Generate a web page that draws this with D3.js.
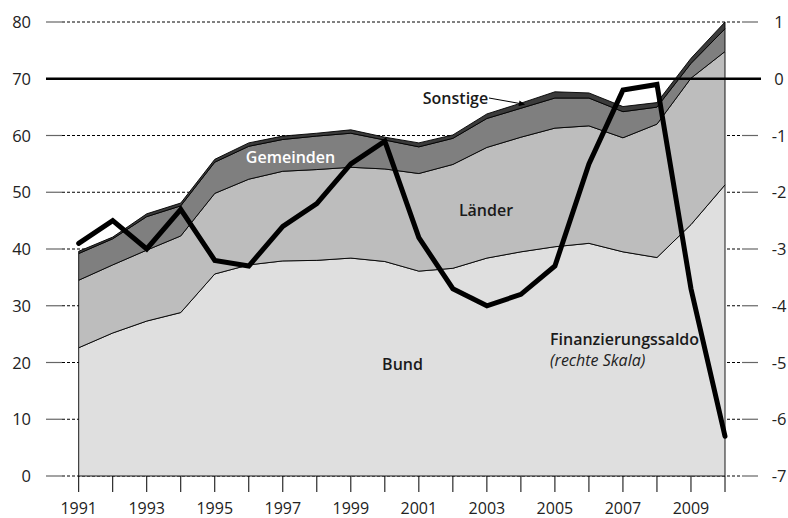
<!DOCTYPE html>
<html>
<head>
<meta charset="utf-8">
<script src="https://cdn.jsdelivr.net/npm/d3@7"></script>
<style>
  body { margin: 0; background: #fff; }
  svg { display: block; font-family: "Open Sans", "Noto Sans", sans-serif; }
</style>
</head>
<body>
<svg id="chart" width="788" height="518"></svg>
<script>
// ---- data ----
const years = [1991,1992,1993,1994,1995,1996,1997,1998,1999,2000,2001,2002,2003,2004,2005,2006,2007,2008,2009,2010];
const bund      = [22.6,25.2,27.3,28.8,35.6,37.2,37.9,38.0,38.4,37.8,36.1,36.6,38.4,39.5,40.4,41.0,39.5,38.5,44.3,51.3];
const laender   = [11.9,12.0,12.5,13.5,14.2,15.1,15.8,16.0,16.0,16.3,17.2,18.3,19.5,20.2,20.9,20.7,20.1,23.5,25.8,23.5];
const gemeinden = [4.7,4.6,5.9,5.3,5.5,5.8,5.6,5.9,6.0,5.1,4.7,4.6,5.1,5.1,5.3,4.9,4.6,3.0,2.6,4.0];
const sonstige  = [0.4,0.3,0.5,0.5,0.5,0.6,0.6,0.5,0.6,0.5,0.7,0.6,0.8,0.9,1.1,0.9,0.9,0.8,0.9,1.2];
const saldo     = [-2.9,-2.5,-3.0,-2.3,-3.2,-3.3,-2.6,-2.2,-1.5,-1.1,-2.8,-3.7,-4.0,-3.8,-3.3,-1.5,-0.2,-0.1,-3.7,-6.3];
const leftTicks  = [0,10,20,30,40,50,60,70,80];
const rightTicks = [-7,-6,-5,-4,-3,-2,-1,0,1];
const xLabelYears = [1991,1993,1995,1997,1999,2001,2003,2005,2007,2009];
const seriesNames = ["Bund","Länder","Gemeinden","Sonstige"];
const seriesColors = ["#dfdfdf","#bdbdbd","#7f7f7f","#3b3b3b"];

// ---- scales ----
const svg = d3.select("#chart");
const x = d3.scaleLinear().domain([1991, 2010]).range([78.7, 725]);
const yL = d3.scaleLinear().domain([0, 80]).range([476, 22]);
const yR = d3.scaleLinear().domain([-7, 1]).range([476, 22]);

const table = years.map((yr, i) => ({
  year: yr, Bund: bund[i], "Länder": laender[i], Gemeinden: gemeinden[i], Sonstige: sonstige[i]
}));
const stacked = d3.stack().keys(seriesNames)(table);

// ---- gridlines (dashed, behind) ----
const grid = svg.append("g");
leftTicks.forEach(t => {
  if (t === 70) return;
  grid.append("line")
    .attr("x1", 62).attr("x2", 742)
    .attr("y1", yL(t)).attr("y2", yL(t))
    .attr("stroke", "#000").attr("stroke-width", 1)
    .attr("stroke-dasharray", "3,2");
  grid.append("line").attr("x1", 46).attr("x2", 62)
    .attr("y1", yL(t)).attr("y2", yL(t))
    .attr("stroke", "#666").attr("stroke-width", 1.2);
  grid.append("line").attr("x1", 742).attr("x2", 758)
    .attr("y1", yL(t)).attr("y2", yL(t))
    .attr("stroke", "#666").attr("stroke-width", 1.2);
});

// ---- stacked areas ----
const area = d3.area()
  .x(d => x(d.data.year))
  .y0(d => yL(d[0]))
  .y1(d => yL(d[1]));
svg.append("g").selectAll("path")
  .data(stacked)
  .join("path")
  .attr("d", area)
  .attr("fill", (d, i) => seriesColors[i])
  .attr("stroke", "#000")
  .attr("stroke-width", 0.9)
  .attr("stroke-linejoin", "miter");

// ---- x axis ticks ----
const xa = svg.append("g");
years.forEach(yr => {
  xa.append("line")
    .attr("x1", x(yr)).attr("x2", x(yr))
    .attr("y1", 476).attr("y2", 492)
    .attr("stroke", "#000").attr("stroke-width", 1);
});
xLabelYears.forEach(yr => {
  xa.append("text")
    .attr("x", x(yr)).attr("y", 513.5)
    .attr("text-anchor", "middle")
    .attr("font-size", 16)
    .attr("fill", "#222")
    .text(yr);
});

// ---- zero line of right scale (70 on left) ----
svg.append("line")
  .attr("x1", 46).attr("x2", 761)
  .attr("y1", yR(0)).attr("y2", yR(0))
  .attr("stroke", "#000").attr("stroke-width", 2.4);

// ---- left and right tick labels ----
leftTicks.forEach(t => {
  svg.append("text")
    .attr("x", 31).attr("y", yL(t) + 6)
    .attr("text-anchor", "end")
    .attr("font-size", 16.5)
    .attr("fill", "#222")
    .text(t);
});
rightTicks.forEach(t => {
  svg.append("text")
    .attr("x", 779).attr("y", yR(t) + 6)
    .attr("text-anchor", "middle")
    .attr("font-size", 16.5)
    .attr("fill", "#222")
    .text(t);
});

// ---- Finanzierungssaldo line ----
const line = d3.line()
  .x((d, i) => x(years[i]))
  .y(d => yR(d));
svg.append("path")
  .datum(saldo)
  .attr("d", line)
  .attr("fill", "none")
  .attr("stroke", "#000")
  .attr("stroke-width", 5)
  .attr("stroke-linejoin", "miter")
  .attr("stroke-linecap", "round");

// ---- labels ----
const lab = svg.append("g").attr("font-size", 16).attr("font-weight", 600);
lab.append("text").attr("x", 290.5).attr("y", 163).attr("text-anchor", "middle")
  .attr("fill", "#fff").text("Gemeinden");
lab.append("text").attr("x", 486).attr("y", 216).attr("text-anchor", "middle")
  .attr("fill", "#1a1a1a").text("Länder");
lab.append("text").attr("x", 402.5).attr("y", 369.5).attr("text-anchor", "middle")
  .attr("fill", "#1a1a1a").text("Bund");
lab.append("text").attr("x", 455.5).attr("y", 103.5).attr("text-anchor", "middle")
  .attr("fill", "#1a1a1a").text("Sonstige");
lab.append("text").attr("x", 550).attr("y", 345).attr("fill", "#1a1a1a")
  .text("Finanzierungssaldo");
svg.append("text").attr("x", 550).attr("y", 366)
  .attr("font-size", 16).attr("font-style", "italic").attr("fill", "#222")
  .text("(rechte Skala)");

// arrow from "Sonstige" label to the Sonstige band
const defs = svg.append("defs");
defs.append("marker").attr("id", "ah")
  .attr("viewBox", "0 0 10 10").attr("refX", 9).attr("refY", 5)
  .attr("markerWidth", 7).attr("markerHeight", 6).attr("orient", "auto")
  .attr("markerUnits", "userSpaceOnUse")
  .append("path").attr("d", "M0,0 L10,5 L0,10 z").attr("fill", "#000");
svg.append("line")
  .attr("x1", 489).attr("y1", 98)
  .attr("x2", x(2004.1)).attr("y2", yL(65.5))
  .attr("stroke", "#000").attr("stroke-width", 1)
  .attr("marker-end", "url(#ah)");
</script>
</body>
</html>
